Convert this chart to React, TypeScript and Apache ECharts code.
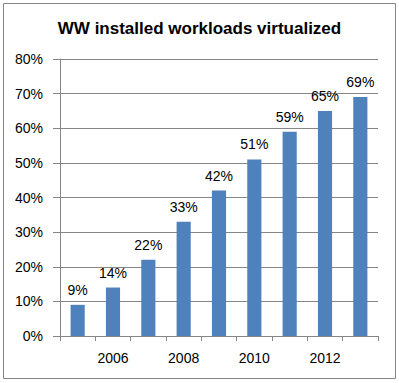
import React, { useEffect, useRef } from "react";
import * as echarts from "echarts";

const years = ["2005", "2006", "2007", "2008", "2009", "2010", "2011", "2012", "2013"];
const values = [9, 14, 22, 33, 42, 51, 59, 65, 69];
const title = "WW installed workloads virtualized";

export default function App() {
  const ref = useRef<HTMLDivElement>(null);
  useEffect(() => {
    const chart = echarts.init(ref.current!, null, { renderer: "svg" });
    const font = "'Liberation Sans', Arial, sans-serif";
    chart.setOption({
      animation: false,
      backgroundColor: "#ffffff",
      title: {
        text: title,
        left: "center",
        top: 15,
        textStyle: { fontFamily: font, fontSize: 17, fontWeight: "bold", color: "#000" },
      },
      graphic: [
        {
          type: "rect",
          shape: { x: 3.5, y: 3.5, width: 392, height: 375 },
          style: { fill: "none", stroke: "#868686", lineWidth: 1 },
          z: 100,
        },
      ],
      grid: { left: 60, right: 21, top: 59, bottom: 47 },
      xAxis: {
        type: "category",
        data: years,
        boundaryGap: true,
        axisLine: { lineStyle: { color: "#868686" } },
        axisTick: { show: true, interval: 0, length: 5, lineStyle: { color: "#868686" } },
        axisLabel: {
          interval: (i: number) => i % 2 === 1,
          margin: 15,
          fontFamily: font,
          fontSize: 14,
          color: "#000",
        },
      },
      yAxis: {
        type: "value",
        min: 0,
        max: 80,
        interval: 10,
        axisLine: { show: true, lineStyle: { color: "#868686" } },
        axisTick: { show: true, length: 7, lineStyle: { color: "#868686" } },
        splitLine: { lineStyle: { color: "#868686" } },
        axisLabel: {
          formatter: "{value}%",
          margin: 17,
          fontFamily: font,
          fontSize: 14,
          color: "#000",
        },
      },
      series: [
        {
          type: "bar",
          data: values,
          barWidth: "40%",
          itemStyle: { color: "#4F81BD" },
          label: {
            show: true,
            position: "top",
            distance: 8,
            formatter: "{c}%",
            fontFamily: font,
            fontSize: 14,
            color: "#000",
          },
        },
      ],
    });
    return () => chart.dispose();
  }, []);
  return (
    <div
      ref={ref}
      style={{ position: "fixed", left: 0, top: 0, width: 399, height: 383 }}
    />
  );
}
